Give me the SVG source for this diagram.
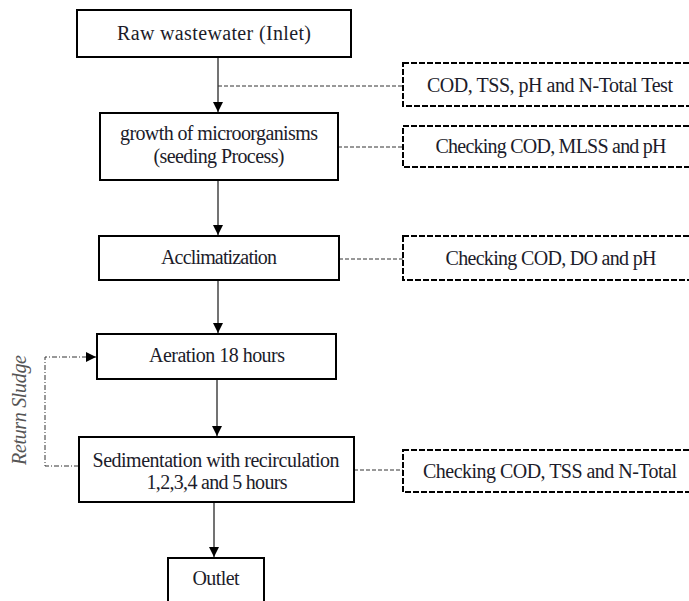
<svg xmlns="http://www.w3.org/2000/svg" width="689" height="601" viewBox="0 0 689 601">
<style>
.box{fill:#fff;stroke:#000;stroke-width:2}
.dbox{fill:#fff;stroke:#000;stroke-width:2;stroke-dasharray:6,2}
.t{font-family:"Liberation Serif","DejaVu Serif",serif;font-size:20px;fill:#1c1c2a;text-anchor:middle}
.flow{stroke:#444;stroke-width:1.5;fill:none}
.dash{stroke:#333;stroke-width:1;stroke-dasharray:4,2;fill:none}
.ret{stroke:#333;stroke-width:1;stroke-dasharray:5,2,1,2;fill:none}
</style>
<defs>
<marker id="ah" markerWidth="10" markerHeight="10" refX="10" refY="5" orient="auto" markerUnits="userSpaceOnUse">
<path d="M0,0 L10,5 L0,10 Z" fill="#000"/>
</marker>
</defs>
<rect width="689" height="601" fill="#fff"/>
<g id="connectors">
<line class="flow" x1="218" y1="58" x2="218" y2="112" marker-end="url(#ah)"/>
<line class="flow" x1="218" y1="181" x2="218" y2="235" marker-end="url(#ah)"/>
<line class="flow" x1="218" y1="281" x2="218" y2="333" marker-end="url(#ah)"/>
<line class="flow" x1="217" y1="380" x2="217" y2="436" marker-end="url(#ah)"/>
<line class="flow" x1="214" y1="503" x2="214" y2="557" marker-end="url(#ah)"/>
<line class="dash" x1="218" y1="86" x2="403" y2="86"/>
<line class="dash" x1="338" y1="147" x2="403" y2="147"/>
<line class="dash" x1="339" y1="259" x2="403" y2="259"/>
<line class="dash" x1="354" y1="470" x2="403" y2="470"/>
<polyline class="ret" points="79,466 45,466 45,357 96,357" marker-end="url(#ah)"/>
</g>
<g id="raw"><rect class="box" x="77" y="10" width="274" height="47"/><text class="t" x="214" y="40" textLength="194">Raw wastewater (Inlet)</text></g>
<g id="growth"><rect class="box" x="100" y="113" width="238" height="67"/><text class="t" x="219" y="140" textLength="198">growth of microorganisms</text><text class="t" x="219" y="163" textLength="131">(seeding Process)</text></g>
<g id="accl"><rect class="box" x="99" y="236" width="240" height="44"/><text class="t" x="219" y="264" textLength="116">Acclimatization</text></g>
<g id="aeration"><rect class="box" x="97" y="334" width="239" height="45"/><text class="t" x="217" y="362" textLength="136">Aeration 18 hours</text></g>
<g id="sed"><rect class="box" x="79" y="437" width="275" height="65"/><text class="t" x="216" y="467" textLength="247">Sedimentation with recirculation</text><text class="t" x="217" y="489" textLength="141">1,2,3,4 and 5 hours</text></g>
<g id="outlet"><rect class="box" x="168" y="558" width="96" height="50"/><text class="t" x="216" y="585" textLength="47">Outlet</text></g>
<g id="test1"><rect class="dbox" x="403" y="63" width="295" height="43"/><text class="t" x="550" y="92" textLength="246">COD, TSS, pH and N-Total Test</text></g>
<g id="test2"><rect class="dbox" x="403" y="126" width="295" height="41"/><text class="t" x="551" y="153" textLength="231">Checking COD, MLSS and pH</text></g>
<g id="test3"><rect class="dbox" x="403" y="236" width="295" height="44"/><text class="t" x="551" y="265" textLength="211">Checking COD, DO and pH</text></g>
<g id="test4"><rect class="dbox" x="403" y="450" width="295" height="42"/><text class="t" x="550" y="478" textLength="254">Checking COD, TSS and N-Total</text></g>
<g id="return-label"><text class="t" transform="translate(26,410) rotate(-90)" style="font-style:italic;fill:#555" textLength="110">Return Sludge</text></g>
</svg>
